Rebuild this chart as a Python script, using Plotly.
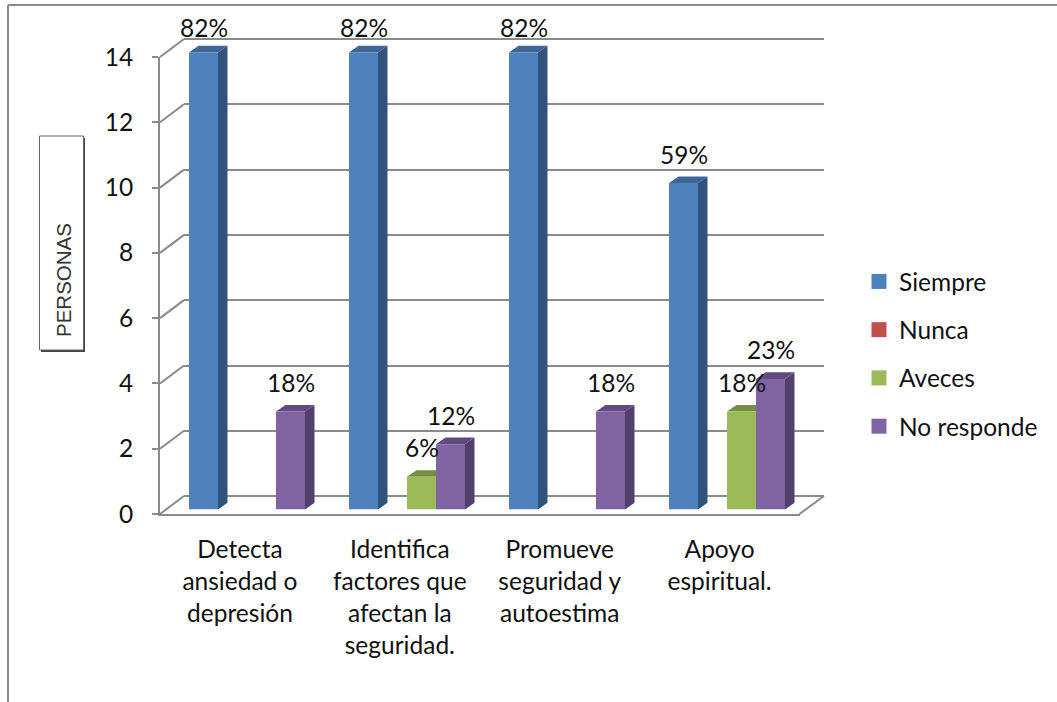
import plotly.graph_objects as go

categories = ["Detecta<br>ansiedad o<br>depresión",
              "Identifica<br>factores que<br>afectan la<br>seguridad.",
              "Promueve<br>seguridad y<br>autoestima",
              "Apoyo<br>espiritual."]
series_names = ["Siempre", "Nunca", "Aveces", "No responde"]
siempre = [14, 14, 14, 10]
nunca = [0, 0, 0, 0]
aveces = [0, 1, 0, 3]
no_responde = [3, 2, 3, 4]
pct_siempre = ["82%", "82%", "82%", "59%"]
pct_nunca = ["", "", "", ""]
pct_aveces = ["", "6%", "", "18%"]
pct_no_responde = ["18%", "12%", "18%", "23%"]
y_ticks = [0, 2, 4, 6, 8, 10, 12, 14]

values = [siempre, nunca, aveces, no_responde]
pcts = [pct_siempre, pct_nunca, pct_aveces, pct_no_responde]
front = ["#4F81BD", "#C0504D", "#9BBB59", "#8064A2"]
side = ["#31527D", "#7D3331", "#5F7434", "#523F6C"]
top = ["#3D6696", "#96403D", "#768E44", "#62497F"]

W, H = 1057, 702
GRID = "#8A8A8A"
FONT = "Lato"
FS = 24.5
PX_PER_UNIT = 32.64
CAT_PX = 160.0
BAR_W = 29 / CAT_PX
DX = 9.5 / CAT_PX
DY = 6.7 / PX_PER_UNIT


def xd(a, b):
    return [a / W, b / W]


def yd(bottom, top_px):
    return [1 - bottom / H, 1 - top_px / H]


def px(x):
    return x / W


def py(y):
    return 1 - y / H


fig = go.Figure()
cat_x = list(range(len(categories)))

# depth faces, below the fronts
for i, name in enumerate(series_names):
    for colour, face in ((side[i], "side"), (top[i], "top")):
        xs, ys = [], []
        for c, v in zip(cat_x, values[i]):
            if v <= 0:
                continue
            l = c + (i - 2) * BAR_W
            r = l + BAR_W
            if face == "side":
                xs += [r, r + DX, r + DX, r, r, None]
                ys += [0, DY, v + DY, v, 0, None]
            else:
                xs += [l, r, r + DX, l + DX, l, None]
                ys += [v, v, v + DY, v + DY, v, None]
        fig.add_trace(go.Scatter(x=xs, y=ys, mode="lines", fill="toself", fillcolor=colour,
                                 line=dict(width=0, color=colour), hoverinfo="skip",
                                 showlegend=False, legendgroup=name, xaxis="x3", yaxis="y3"))

# front faces
for i, name in enumerate(series_names):
    fig.add_trace(go.Bar(x=cat_x, y=values[i], name=name, marker=dict(color=front[i], line=dict(width=0)),
                         showlegend=False, legendgroup=name, xaxis="x4", yaxis="y4"))

# legend entries
for i, name in enumerate(series_names):
    fig.add_trace(go.Scatter(x=[None], y=[None], mode="markers", name=name, legendgroup=name,
                             marker=dict(symbol="square", size=15, color=front[i]),
                             xaxis="x4", yaxis="y4"))

annotations = []
for i in range(len(series_names)):
    for c, v, p in zip(cat_x, values[i], pcts[i]):
        if p:
            annotations.append(dict(x=c + (i - 1.5) * BAR_W, y=v, xref="x4", yref="y4", text=p,
                                    showarrow=False, xanchor="center", yanchor="middle",
                                    yshift=25.5 if v == max(y_ticks) else 29,
                                    font=dict(family=FONT, size=FS, color="#111111")))
annotations.append(dict(x=px(63.5), y=py(280.5), xref="paper", yref="paper", text="PERSONAS",
                        textangle=-90, showarrow=False, xanchor="center", yanchor="middle",
                        font=dict(family="Liberation Sans", size=20.5, color="#333333")))

# frame, axis-title box, depth connectors
line = dict(color=GRID, width=2)
shapes = [
    dict(type="line", xref="paper", yref="paper", x0=px(8), x1=px(8), y0=py(5), y1=py(702), line=line),
    dict(type="line", xref="paper", yref="paper", x0=px(8), x1=px(1057), y0=py(5), y1=py(5), line=line),
    dict(type="rect", xref="paper", yref="paper", x0=px(41), x1=px(85), y0=py(352), y1=py(138),
         line=dict(width=0), fillcolor="#444444"),
    dict(type="rect", xref="paper", yref="paper", x0=px(39.5), x1=px(83.5), y0=py(350), y1=py(136),
         line=dict(color="#666666", width=1), fillcolor="#FFFFFF"),
]
for v in y_ticks:
    yf = 514 - v * PX_PER_UNIT
    shapes.append(dict(type="line", xref="paper", yref="paper", x0=px(160), x1=px(184),
                       y0=py(yf), y1=py(yf - 18), line=line))
shapes.append(dict(type="line", xref="paper", yref="paper", x0=px(799.5), x1=px(824),
                   y0=py(514), y1=py(496), line=line))

hidden_y = dict(range=[0, 15], showgrid=False, zeroline=False, visible=False,
                domain=yd(509.5, 509.5 - 15 * PX_PER_UNIT))
hidden_x = dict(range=[-0.5, 3.5], visible=False, domain=xd(167, 807))

fig.update_layout(
    width=W, height=H, margin=dict(l=0, r=0, t=0, b=0, autoexpand=False),
    paper_bgcolor="white", plot_bgcolor="rgba(0,0,0,0)",
    barmode="group", bargap=0.275, bargroupgap=0,
    font=dict(family=FONT, size=FS, color="#111111"),
    annotations=annotations, shapes=shapes,
    showlegend=True,
    legend=dict(x=px(859), y=py(259), xanchor="left", yanchor="top", tracegroupgap=13.4,
                bgcolor="rgba(0,0,0,0)", font=dict(family=FONT, size=FS, color="#111111")),
    # back wall: range padded so that the end gridlines stay drawn
    xaxis=dict(domain=xd(184, 824), range=[-0.5, 3.5], visible=False, anchor="y"),
    yaxis=dict(domain=yd(496.5 + 0.5 * PX_PER_UNIT, 39 - 0.5 * PX_PER_UNIT), range=[-0.5, 14.5],
               tickvals=y_ticks, showticklabels=False,
               showgrid=True, gridcolor=GRID, gridwidth=2, zeroline=False, showline=False,
               ticks="", anchor="x"),
    # front axes
    xaxis2=dict(domain=xd(160, 799.5), range=[-0.5, 3.5], tickvals=cat_x, ticktext=categories,
                showline=True, linecolor=GRID, linewidth=2, ticks="", showgrid=False, zeroline=False,
                anchor="y2", ticklabelstandoff=13, tickfont=dict(family=FONT, size=FS, color="#111111")),
    yaxis2=dict(domain=yd(514, 57), range=[0, 14], tickvals=y_ticks, showline=True, linecolor=GRID,
                linewidth=2, ticks="outside", ticklen=6, tickcolor=GRID, tickwidth=2, showgrid=False,
                zeroline=False, anchor="x2", ticklabelstandoff=14,
                tickfont=dict(family=FONT, size=FS, color="#111111")),
    xaxis3=dict(hidden_x, anchor="y3"), yaxis3=dict(hidden_y, anchor="x3"),
    xaxis4=dict(hidden_x, anchor="y4"), yaxis4=dict(hidden_y, anchor="x4"),
)

fig.add_trace(go.Scatter(x=[None], y=[None], xaxis="x2", yaxis="y2", showlegend=False, hoverinfo="skip"))
fig.add_trace(go.Scatter(x=[None], y=[None], xaxis="x", yaxis="y", showlegend=False, hoverinfo="skip"))

fig.write_html("out.html", config={"displayModeBar": False},
               post_script="document.body.style.margin='0';document.body.style.overflow='hidden';")
